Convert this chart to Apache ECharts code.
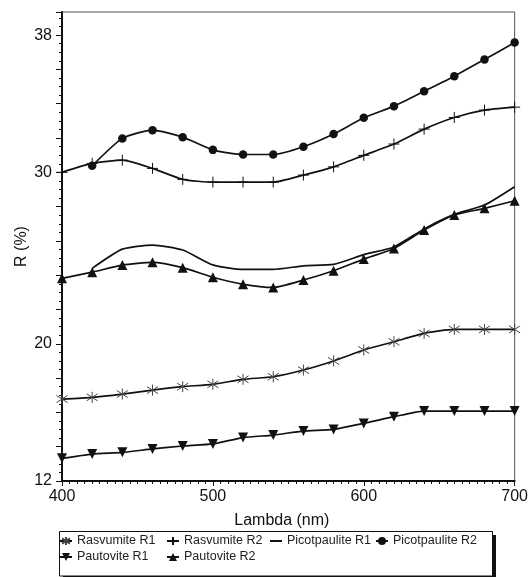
<!DOCTYPE html>
<html>
<head>
<meta charset="utf-8">
<script src="https://cdn.jsdelivr.net/npm/echarts@6/dist/echarts.min.js"></script>
<style>html,body{margin:0;padding:0;background:#fff}#c{width:531px;height:577px}</style>
</head>
<body>
<div id="c"></div>
<script>
var lambda = [400,420,440,460,480,500,520,540,560,580,600,620,640,660,680,700];
var rasvumiteR1 = [16.78,16.88,17.07,17.3,17.5,17.64,17.93,18.08,18.47,19.0,19.64,20.12,20.61,20.84,20.84,20.84];
var rasvumiteR2 = [30.0,30.52,30.71,30.23,29.59,29.43,29.43,29.43,29.84,30.32,30.99,31.65,32.52,33.2,33.63,33.8];
var picotpauliteR1 = [null,24.4,25.52,25.76,25.47,24.6,24.34,24.34,24.55,24.63,25.2,25.65,26.7,27.55,28.09,29.16];
var picotpauliteR2 = [null,30.38,31.98,32.46,32.05,31.31,31.04,31.04,31.49,32.23,33.18,33.86,34.73,35.61,36.58,37.57];
var pautoviteR1 = [13.32,13.57,13.67,13.87,14.04,14.16,14.53,14.68,14.91,15.01,15.36,15.75,16.08,16.08,16.08,16.08];
var pautoviteR2 = [23.82,24.18,24.59,24.75,24.44,23.88,23.47,23.29,23.72,24.26,24.94,25.56,26.63,27.51,27.9,28.34];
var yLabels = [12,20,30,38];
var xLabels = [400,500,600,700];

function pairs(arr){ return lambda.map(function(x,i){ return [x, arr[i]]; }); }
var FONT = 'Liberation Sans, Arial, sans-serif';
var ASTER = 'path://M0,-5L0,5M-3.8,-3.2L3.8,3.2M-3.8,3.2L3.8,-3.2';
var PLUS = 'path://M0,-5.5L0,5.5M-4,0L4,0';

function mk(name, arr, symbol, size, extra){
  var s = {
    name: name, type: 'line', data: pairs(arr), smooth: 0.2,
    symbol: symbol, symbolSize: size, showSymbol: symbol !== 'none',
    lineStyle: {color: '#111', width: 1.7},
    itemStyle: {color: '#111'},
    emphasis: {disabled: true}, z: 3
  };
  for (var k in extra) s[k] = extra[k];
  return s;
}

var chart = echarts.init(document.getElementById('c'), null, {renderer: 'canvas'});
function lg(left, names, iw, ih, icon){
  var o = {
    orient: 'vertical', top: 534.5, left: left, padding: 0,
    itemWidth: iw || 12, itemHeight: ih || 10, itemGap: 3,
    textStyle: {fontFamily: FONT, fontSize: 12.5, color: '#222', lineHeight: 13},
    selectedMode: false, data: names
  };
  if (icon) o.icon = icon;
  return o;
}

chart.setOption({
  animation: false,
  backgroundColor: '#fff',
  grid: {left: 62, right: 10, top: 12, bottom: 96, show: true, borderColor: '#555', borderWidth: 1},
  xAxis: {
    type: 'value', min: 400, max: 700, interval: 100,
    name: 'Lambda (nm)', nameLocation: 'middle', nameGap: 32, nameMoveOverlap: false,
    nameTextStyle: {fontFamily: FONT, fontSize: 16, color: '#111', padding: [0, 13, 0, 0]},
    axisLine: {show: true, onZero: false, lineStyle: {color: '#111', width: 2}},
    axisTick: {show: true, length: 5, lineStyle: {color: '#111'}},
    minorTick: {show: true, splitNumber: 20, length: 3, lineStyle: {color: '#111'}},
    axisLabel: {fontFamily: FONT, fontSize: 16, color: '#111', margin: 8,
      formatter: function(v){ return xLabels.indexOf(v) >= 0 ? String(v) : ''; }},
    splitLine: {show: false}
  },
  yAxis: {
    type: 'value', min: 12, max: 39.35, interval: 2,
    name: 'R (%)', nameLocation: 'middle', nameGap: 32, nameMoveOverlap: false,
    nameTextStyle: {fontFamily: FONT, fontSize: 16, color: '#111'},
    axisLine: {show: true, onZero: false, lineStyle: {color: '#111', width: 2}},
    axisTick: {show: true, length: 6, lineStyle: {color: '#111'}},
    minorTick: {show: true, splitNumber: 4, length: 3, lineStyle: {color: '#111'}},
    axisLabel: {fontFamily: FONT, fontSize: 16, color: '#111', margin: 10,
      formatter: function(v){ return yLabels.indexOf(v) >= 0 ? String(v) : ''; }},
    splitLine: {show: false}
  },
  legend: [
    lg(59, ['Rasvumite R1', 'Pautovite R1']),
    lg(166, ['Rasvumite R2', 'Pautovite R2']),
    lg(270, ['Picotpaulite R1'], 12, 2, 'rect'),
    lg(375, ['Picotpaulite R2'])
  ],
  graphic: [
    {type: 'rect', shape: {x: 63, y: 535, width: 433, height: 45}, style: {fill: '#111'}, z: 0},
    {type: 'rect', shape: {x: 59.5, y: 531.5, width: 433, height: 44.5}, style: {fill: '#fff', stroke: '#111', lineWidth: 1}, z: 1}
  ],
  series: [
    mk('Rasvumite R1', rasvumiteR1, ASTER, 11, {itemStyle: {color: '#444', borderColor: '#444', borderWidth: 1}}),
    mk('Rasvumite R2', rasvumiteR2, PLUS, 11, {itemStyle: {color: '#111', borderColor: '#111', borderWidth: 1}}),
    mk('Picotpaulite R1', picotpauliteR1, 'none', 0, {}),
    mk('Picotpaulite R2', picotpauliteR2, 'circle', 8.5, {}),
    mk('Pautovite R1', pautoviteR1, 'triangle', 10, {symbolRotate: 180}),
    mk('Pautovite R2', pautoviteR2, 'triangle', 10, {})
  ]
});
</script>
</body>
</html>
